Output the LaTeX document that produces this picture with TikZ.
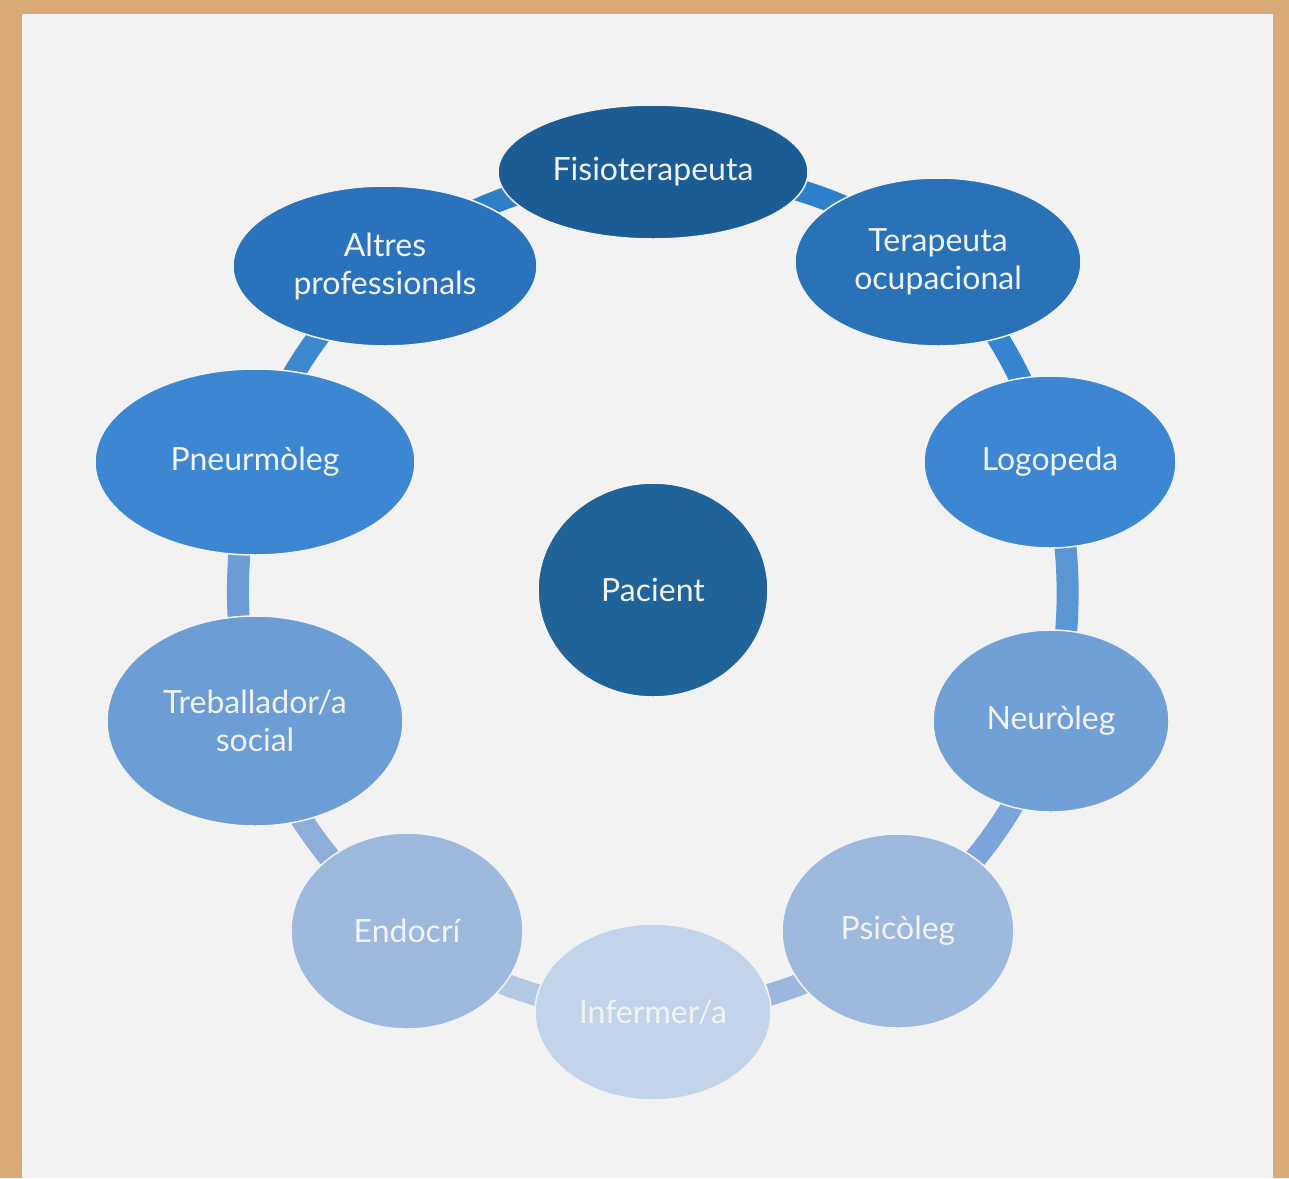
\documentclass[tikz,border=0pt]{standalone}
\usepackage{fontspec}
\setmainfont{Lato}
\usetikzlibrary{shapes.geometric}
\pgfdeclarelayer{back}
\pgfdeclarelayer{bg}
\pgfsetlayers{back,bg,main}
\definecolor{tan}{HTML}{D9A877}
\definecolor{paper}{HTML}{F2F2F2}
\definecolor{cFis}{HTML}{1B5C94}
\definecolor{cPac}{HTML}{1F6399}
\definecolor{cTer}{HTML}{2A72B8}
\definecolor{cAlt}{HTML}{2A72BC}
\definecolor{cLog}{HTML}{3D87D2}
\definecolor{cPne}{HTML}{3D87D2}
\definecolor{cNeu}{HTML}{70A0D6}
\definecolor{cTre}{HTML}{6C9DD4}
\definecolor{cPsi}{HTML}{9DB9DE}
\definecolor{cEnd}{HTML}{9DB9DE}
\definecolor{cInf}{HTML}{C3D4EA}
\definecolor{sA}{HTML}{2E80CA}
\definecolor{sB}{HTML}{3585D0}
\definecolor{sC}{HTML}{5A96D4}
\definecolor{sD}{HTML}{7BA5DA}
\definecolor{sE}{HTML}{9DB8DE}
\definecolor{sF}{HTML}{B3C8E4}
\definecolor{sG}{HTML}{8EADD9}
\definecolor{sH}{HTML}{6C9DD4}
\definecolor{sI}{HTML}{3E88D0}
\definecolor{sJ}{HTML}{2F7FC8}
\tikzset{
  blob/.style={ellipse, inner sep=0pt, draw=paper, line width=1.5pt,
    text=paper, font=\fontsize{32}{38}\selectfont, align=center},
  ring/.style={line width=22pt, looseness=0.87}
}
\begin{document}
\begin{tikzpicture}[x=1pt,y=-1pt]
\useasboundingbox (0,0) rectangle (1289,1178);
\begin{pgfonlayer}{back}
\fill[tan] (0,0) rectangle (1289,1178);
\fill[paper] (22,14) rectangle (1273,1178);
\end{pgfonlayer}

\node[blob, fill=cFis, minimum width=310pt, minimum height=134pt] (fis) at (653,172) {Fisioterapeuta};
\node[blob, fill=cTer, minimum width=286pt, minimum height=168pt] (ter) at (938,262) {Terapeuta\\ocupacional};
\node[blob, fill=cLog, minimum width=252pt, minimum height=172pt] (log) at (1050,462) {Logopeda};
\node[blob, fill=cNeu, minimum width=236pt, minimum height=182pt] (neu) at (1051,721) {Neuròleg};
\node[blob, fill=cPsi, minimum width=232pt, minimum height=194pt] (psi) at (898,931) {Psicòleg};
\node[blob, fill=cInf, minimum width=236pt, minimum height=176pt] (inf) at (653,1012) {Infermer/a};
\node[blob, fill=cEnd, minimum width=232pt, minimum height=196pt] (end) at (407,931) {Endocrí};
\node[blob, fill=cTre, minimum width=296pt, minimum height=210pt] (tre) at (255,721) {Treballador/a\\social};
\node[blob, fill=cPne, minimum width=320pt, minimum height=186pt] (pne) at (255,462) {Pneurmòleg};
\node[blob, fill=cAlt, minimum width=304pt, minimum height=160pt] (alt) at (385,266) {Altres\\professionals};
\node[blob, fill=cPac, minimum width=230pt, minimum height=214pt] (pac) at (653,590) {Pacient};

\begin{pgfonlayer}{bg}
\draw[ring, sA] (fis.center) to[bend left=20.5] (ter.center);
\draw[ring, sB] (ter.center) to[bend left=15.5] (log.center);
\draw[ring, sC] (log.center) to[bend left=15] (neu.center);
\draw[ring, sD] (neu.center) to[bend left=18] (psi.center);
\draw[ring, sE] (psi.center) to[bend left=18] (inf.center);
\draw[ring, sF] (inf.center) to[bend left=18] (end.center);
\draw[ring, sG] (end.center) to[bend left=18] (tre.center);
\draw[ring, sH] (tre.center) to[bend left=15] (pne.center);
\draw[ring, sI] (pne.center) to[bend left=16.5] (alt.center);
\draw[ring, sJ] (alt.center) to[bend left=19.5] (fis.center);
\end{pgfonlayer}
\end{tikzpicture}
\end{document}
